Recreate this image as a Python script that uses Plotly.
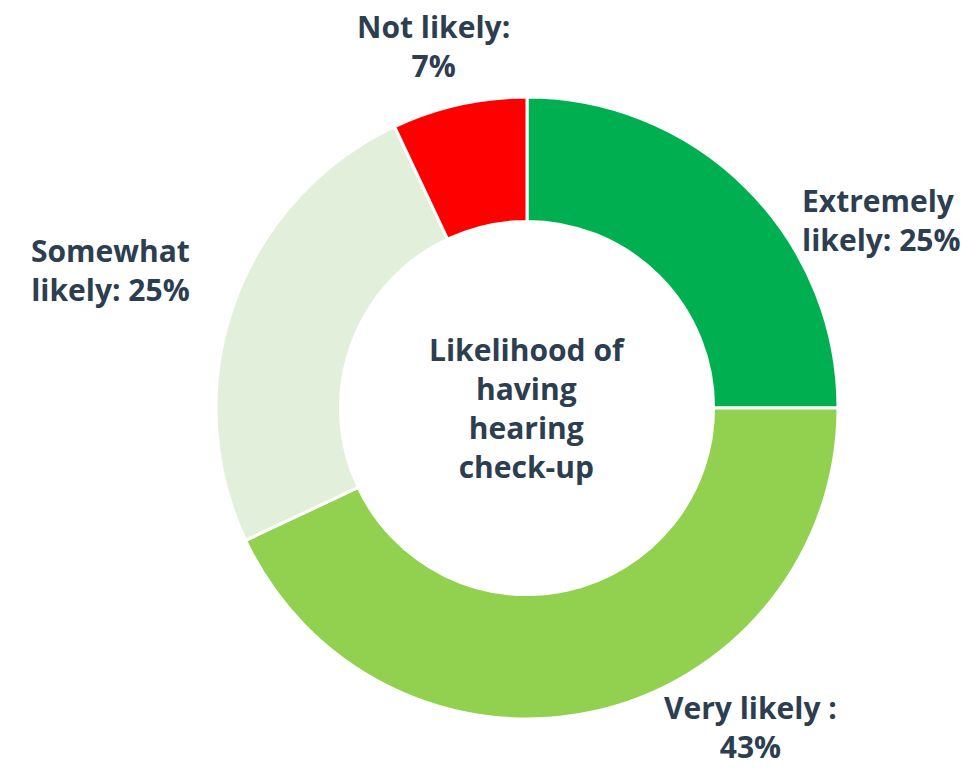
import plotly.graph_objects as go

# Survey result: likelihood of having a hearing check-up
categories = ["Extremely likely", "Very likely", "Somewhat likely", "Not likely"]
values = [25, 43, 25, 7]
colors = ["#00B050", "#92D050", "#E2EFDA", "#FF0000"]

# Outside label layout (lines of each label, value inserted)
label_templates = [
    "Extremely<br>likely: {v}%",
    "Very likely :<br>{v}%",
    "Somewhat<br>likely: {v}%",
    "Not likely:<br>{v}%",
]
center_text = "Likelihood of<br>having<br>hearing<br>check-up"

W, H = 976, 772
TEXT = "#2C3E50"
FONT = "Open Sans"
SIZE = 30

# label anchor: (x px, block-middle y px, x anchor, text align)
label_pos = [
    (800, 220, "left", "left"),
    (750, 727, "center", "center"),
    (110, 270, "center", "center"),
    (433, 46, "center", "center"),
]

cx, cy, r = 527, 408, 311

fig = go.Figure(go.Pie(
    labels=categories,
    values=values,
    hole=0.6,
    sort=False,
    direction="clockwise",
    rotation=0,
    marker=dict(colors=colors, line=dict(color="white", width=3)),
    textinfo="none",
    hoverinfo="label+percent",
    domain=dict(x=[(cx - r) / W, (cx + r) / W],
                y=[(H - cy - r) / H, (H - cy + r) / H]),
    showlegend=False,
))

annotations = []
for (px, py, anchor, align), tmpl, v in zip(label_pos, label_templates, values):
    annotations.append(dict(
        x=px / W, y=1 - py / H, xref="paper", yref="paper",
        text="<b>" + tmpl.format(v=v) + "</b>", showarrow=False,
        xanchor=anchor, yanchor="middle", align=align,
        font=dict(family=FONT, size=SIZE, color=TEXT),
    ))

annotations.append(dict(
    x=cx / W, y=1 - cy / H, xref="paper", yref="paper",
    text="<b>" + center_text + "</b>", showarrow=False,
    xanchor="center", yanchor="middle", align="center",
    font=dict(family=FONT, size=SIZE, color=TEXT),
))

fig.update_layout(
    width=W, height=H,
    margin=dict(l=0, r=0, t=0, b=0),
    paper_bgcolor="white",
    plot_bgcolor="white",
    annotations=annotations,
)

fig.write_html("out.html")
